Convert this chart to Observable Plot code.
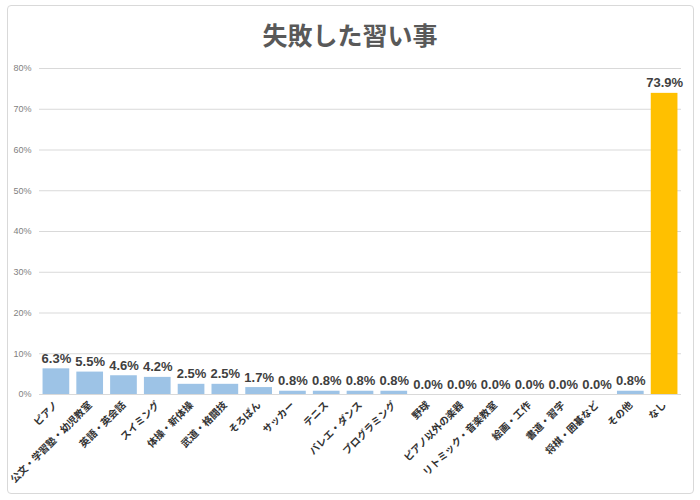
<!DOCTYPE html>
<html>
<head>
<meta charset="utf-8">
<script src="https://cdn.jsdelivr.net/npm/d3@7"></script>
<script src="https://cdn.jsdelivr.net/npm/@observablehq/plot@0.6"></script>
<style>
  html, body { margin: 0; padding: 0; background: #fff; }
  #wrap { position: relative; width: 700px; height: 500px; }
  #frame { position: absolute; left: 7px; top: 5px; width: 687px; height: 489px; border: 1px solid #d9d9d9; border-radius: 4px; box-sizing: border-box; }
  #title { position: absolute; left: 0; top: 16px; width: 700px; text-align: center; font-family: "Noto Sans CJK JP", sans-serif; font-weight: 700; font-size: 25px; color: #595959; }
  #chart { position: absolute; left: 0; top: 0; }
</style>
</head>
<body>
<div id="wrap">
  <div id="frame"></div>
  <div id="title">失敗した習い事</div>
  <div id="chart"></div>
</div>
<script>
const categories = ["ピアノ","公文・学習塾・幼児教室","英語・英会話","スイミング","体操・新体操","武道・格闘技","そろばん","サッカー","テニス","バレエ・ダンス","プログラミング","野球","ピアノ以外の楽器","リトミック・音楽教室","絵画・工作","書道・習字","将棋・囲碁など","その他","なし"];
const values = [6.3,5.5,4.6,4.2,2.5,2.5,1.7,0.8,0.8,0.8,0.8,0.0,0.0,0.0,0.0,0.0,0.0,0.8,73.9];
const highlight = ["なし"];
const yTicks = [0,10,20,30,40,50,60,70,80];

const data = categories.map((c, i) => ({cat: c, value: values[i], hi: highlight.includes(c)}));

const plot = Plot.plot({
  width: 700,
  height: 500,
  marginTop: 68,
  marginBottom: 106,
  marginLeft: 39,
  marginRight: 19,
  style: {background: "transparent", fontFamily: "'Noto Sans CJK JP', sans-serif"},
  x: {domain: categories, paddingInner: 0.21, paddingOuter: 0.105, round: false, label: null},
  y: {domain: [0, 80], label: null},
  marks: [
    Plot.ruleY(yTicks, {stroke: "#d9d9d9", strokeWidth: 1}),
    Plot.axisY({ticks: yTicks, tickSize: 0, tickPadding: 8, tickFormat: d => d + "%", fontSize: 9, fill: "#7f7f7f", fontFamily: "'Liberation Sans', sans-serif", label: null}),
    Plot.axisX({tickSize: 0, tickPadding: 9, tickRotate: -45, fontSize: 10, fontWeight: 700, fill: "#333333", label: null}),
    Plot.barY(data, {x: "cat", y: "value", fill: d => d.hi ? "#FFC000" : "#9DC3E6"}),
    Plot.text(data, {x: "cat", y: "value", text: d => d.value.toFixed(1) + "%", lineAnchor: "bottom", dy: -6, fontSize: 13, fontWeight: 700, fill: "#404040", fontFamily: "'Liberation Sans', sans-serif"})
  ]
});
document.getElementById("chart").appendChild(plot);
</script>
</body>
</html>
